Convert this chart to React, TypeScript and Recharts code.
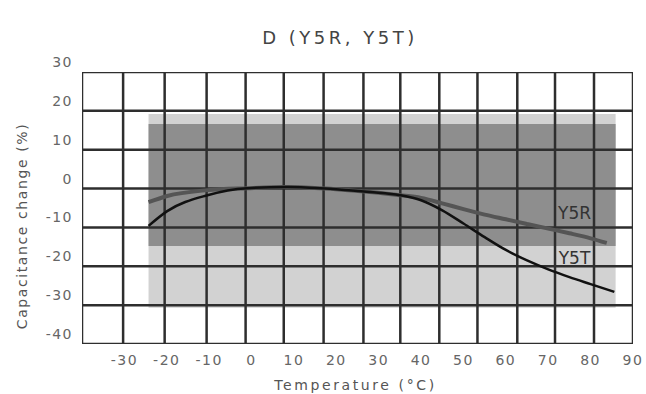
import { ComposedChart, Line, Area, XAxis, YAxis, ReferenceDot } from 'recharts'

// temperature axis (°C)
const tempTicks = [-30, -20, -10, 0, 10, 20, 30, 40, 50, 60, 70, 80, 90]
// capacitance change axis (%)
const capTicks = [30, 20, 10, 0, -10, -20, -30, -40]
// vertical grid lines of the printed chart (they don't sit on the ticks)
const gridTemps = [-40, -30.3, -20.5, -10.6, -1.4, 7.6, 17.0, 26.4, 35.1, 44.3, 53.3, 62.7, 71.6, 80.8, 90]

// spec bands
const bandTemps = [-24.3, 85.9]
const y5tLimits = [-30.7, 19.2]
const y5rLimits = [-14.8, 16.6]

// measured curves
const y5rTemps = [-24.3, -19.9, -10.4, -1.0, 8.4, 16.2, 27.9, 35.0, 40, 45, 50, 55, 60, 65, 70, 75, 80, 83.8]
const y5rValues = [-3.5, -1.9, -0.4, 0.1, 0.4, 0.1, -0.9, -1.7, -2.4, -3.8, -5.3, -6.7, -7.9, -9.1, -10.3, -11.5, -12.8, -14.0]
const y5tTemps = [-24.3, -19.9, -10.4, -1.0, 8.4, 16.2, 27.9, 35.0, 40, 45, 50, 55, 60, 65, 70, 75, 80, 85.6]
const y5tValues = [-9.6, -5.8, -1.7, 0.1, 0.4, 0.1, -0.9, -1.7, -3.0, -5.6, -9.0, -12.5, -15.8, -18.5, -20.8, -22.8, -24.6, -26.6]

// curve name labels
const curveNames = ['Y5R', 'Y5T']
const nameTemps = [76.2, 76.2]
const nameValues = [-6.3, -17.9]

const y5rData = y5rTemps.map((t, i) => ({ t, v: y5rValues[i] }))
const y5tData = y5tTemps.map((t, i) => ({ t, v: y5tValues[i] }))
const y5tBand = bandTemps.map((t) => ({ t, range: y5tLimits }))
const y5rBand = bandTemps.map((t) => ({ t, range: y5rLimits }))

const FONT = '"DejaVu Sans", sans-serif'
const GRID = '#2e2e2e'
const tMin = -40
const tMax = 90
const vMin = -40
const vMax = 30

function XTick({ x, y, payload }: any) {
  return (
    <text x={x} y={y + 19} textAnchor="middle" fontSize={14} fill="#666" letterSpacing={1.5} fontFamily={FONT}>
      {payload.value}
    </text>
  )
}

function YTick({ x, y, payload }: any) {
  return (
    <text x={x} y={y - 10} textAnchor="end" dominantBaseline="central" fontSize={14} fill="#666" letterSpacing={1.5} fontFamily={FONT}>
      {payload.value}
    </text>
  )
}

function App() {
  return (
    <div style={{ width: 646, height: 394, position: 'relative', background: '#fff' }}>
      <style>{'body{margin:0}'}</style>
      <div
        style={{
          position: 'absolute',
          left: 0,
          width: 646,
          top: 27,
          textAlign: 'center',
          paddingLeft: 34,
          boxSizing: 'border-box',
          fontFamily: FONT,
          fontSize: 18,
          letterSpacing: 3.5,
          color: '#444',
        }}
      >
        D (Y5R, Y5T)
      </div>
      <ComposedChart width={646} height={394} margin={{ top: 72, right: 13, left: 22, bottom: 0 }}>
        <XAxis
          type="number"
          dataKey="t"
          domain={[tMin, tMax]}
          ticks={tempTicks}
          allowDataOverflow
          axisLine={false}
          tickLine={false}
          tickSize={0}
          height={50}
          tick={<XTick />}
          label={{
            content: ({ viewBox }: any) => (
              <text
                x={viewBox.x + viewBox.width / 2 - 2}
                y={viewBox.y + 46}
                textAnchor="middle"
                fontSize={14}
                fill="#555"
                letterSpacing={2.6}
                fontFamily={FONT}
              >
                Temperature (°C)
              </text>
            ),
          }}
        />
        <YAxis
          type="number"
          domain={[vMin, vMax]}
          ticks={capTicks}
          allowDataOverflow
          axisLine={false}
          tickLine={false}
          tickSize={0}
          tickMargin={9}
          width={60}
          tick={<YTick />}
          label={{
            content: ({ viewBox }: any) => {
              const cx = viewBox.x
              const cy = viewBox.y + viewBox.height / 2 + 18
              return (
                <text
                  x={cx}
                  y={cy}
                  transform={`rotate(-90 ${cx} ${cy})`}
                  textAnchor="middle"
                  dominantBaseline="central"
                  fontSize={14}
                  fill="#555"
                  letterSpacing={1.6}
                  fontFamily={FONT}
                >
                  Capacitance change (%)
                </text>
              )
            },
          }}
        />
        <Area data={y5tBand} dataKey="range" type="linear" fill="#d2d2d2" fillOpacity={1} stroke="none" isAnimationActive={false} />
        <Area data={y5rBand} dataKey="range" type="linear" fill="#8e8e8e" fillOpacity={1} stroke="none" isAnimationActive={false} />
        {gridTemps.map((t) => (
          <Line
            key={'gx' + t}
            data={[{ t, v: vMin }, { t, v: vMax }]}
            dataKey="v"
            type="linear"
            stroke={GRID}
            strokeWidth={2.5}
            strokeLinecap="square"
            dot={false}
            activeDot={false}
            isAnimationActive={false}
          />
        ))}
        {capTicks.map((v) => (
          <Line
            key={'gy' + v}
            data={[{ t: tMin, v }, { t: tMax, v }]}
            dataKey="v"
            type="linear"
            stroke={GRID}
            strokeWidth={2.5}
            strokeLinecap="square"
            dot={false}
            activeDot={false}
            isAnimationActive={false}
          />
        ))}
        <Line
          data={y5rData}
          dataKey="v"
          type="monotone"
          stroke="#555"
          strokeWidth={4}
          dot={false}
          isAnimationActive={false}
        />
        <Line
          data={y5tData}
          dataKey="v"
          type="monotone"
          stroke="#111"
          strokeWidth={2.5}
          dot={false}
          isAnimationActive={false}
        />
        {curveNames.map((name, i) => (
          <ReferenceDot
            key={name}
            x={nameTemps[i]}
            y={nameValues[i]}
            r={0}
            stroke="none"
            label={{
              value: name,
              position: 'center',
              fontSize: 17,
              fill: '#333',
              fontFamily: FONT,
            }}
          />
        ))}
      </ComposedChart>
    </div>
  )
}

export default App
